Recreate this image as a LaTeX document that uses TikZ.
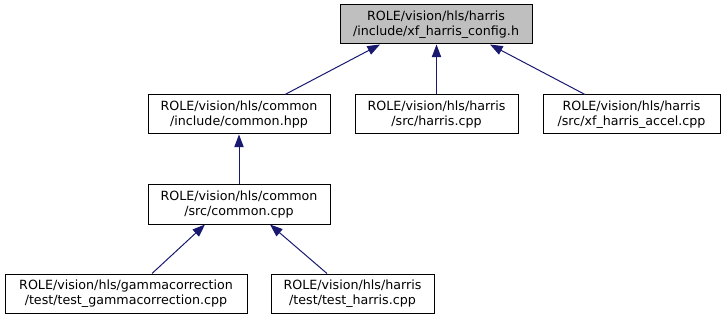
\documentclass[tikz,border=0pt]{standalone}
\usepackage{fontspec}
\setmainfont{DejaVu Sans}
\usetikzlibrary{arrows.meta,calc}

\definecolor{edgeblue}{RGB}{25,25,112}
\definecolor{hdrgray}{RGB}{191,191,191}

\tikzset{
    file/.style={draw=black, line width=0.75pt, fill=white, inner sep=0pt,
        minimum height=29.25pt, align=center,
        font=\fontsize{9.5}{11.25}\selectfont},
    incl/.style={draw=edgeblue, line width=0.75pt,
        -{Triangle[length=9.5pt,width=7pt]}}
}

\begin{document}
\begin{tikzpicture}[x=0.75pt, y=-0.75pt]
        \useasboundingbox (0,0) rectangle (723,320);

        % the header and the files that include it
        \node[file, fill=hdrgray, minimum width=144pt] (cfg) at (436,24.5)
            {ROLE/vision/hls/harris\\/include/xf\_harris\_config.h};
        \node[file, minimum width=136.5pt] (chpp) at (239,114.5)
            {ROLE/vision/hls/common\\/include/common.hpp};
        \node[file, minimum width=122.25pt] (hcpp) at (436.5,114.5)
            {ROLE/vision/hls/harris\\/src/harris.cpp};
        \node[file, minimum width=132.75pt] (accel) at (631.5,114.5)
            {ROLE/vision/hls/harris\\/src/xf\_harris\_accel.cpp};
        \node[file, minimum width=136.5pt] (ccpp) at (239,204.5)
            {ROLE/vision/hls/common\\/src/common.cpp};
        \node[file, minimum width=181.5pt] (gamma) at (126,293.5)
            {ROLE/vision/hls/gammacorrection\\/test/test\_gammacorrection.cpp};
        \node[file, minimum width=122.25pt] (thar) at (352.5,293.5)
            {ROLE/vision/hls/harris\\/test/test\_harris.cpp};

        % include edges, arrow points at the included file
        \draw[incl] ($(chpp.north)+(46,0)$) -- ($(cfg.south)+(-56,0)$);
        \draw[incl] (hcpp.north) -- (hcpp.north |- cfg.south);
        \draw[incl] ($(accel.north)+(-46.5,0)$) -- ($(cfg.south)+(54,0)$);
        \draw[incl] (ccpp.north) -- (chpp.south);
        \draw[incl] ($(gamma.north)+(26,0)$) -- ($(ccpp.south)+(-34,0)$);
        \draw[incl] ($(thar.north)+(-25.5,0)$) -- ($(ccpp.south)+(31,0)$);

    \end{tikzpicture}
\end{document}
